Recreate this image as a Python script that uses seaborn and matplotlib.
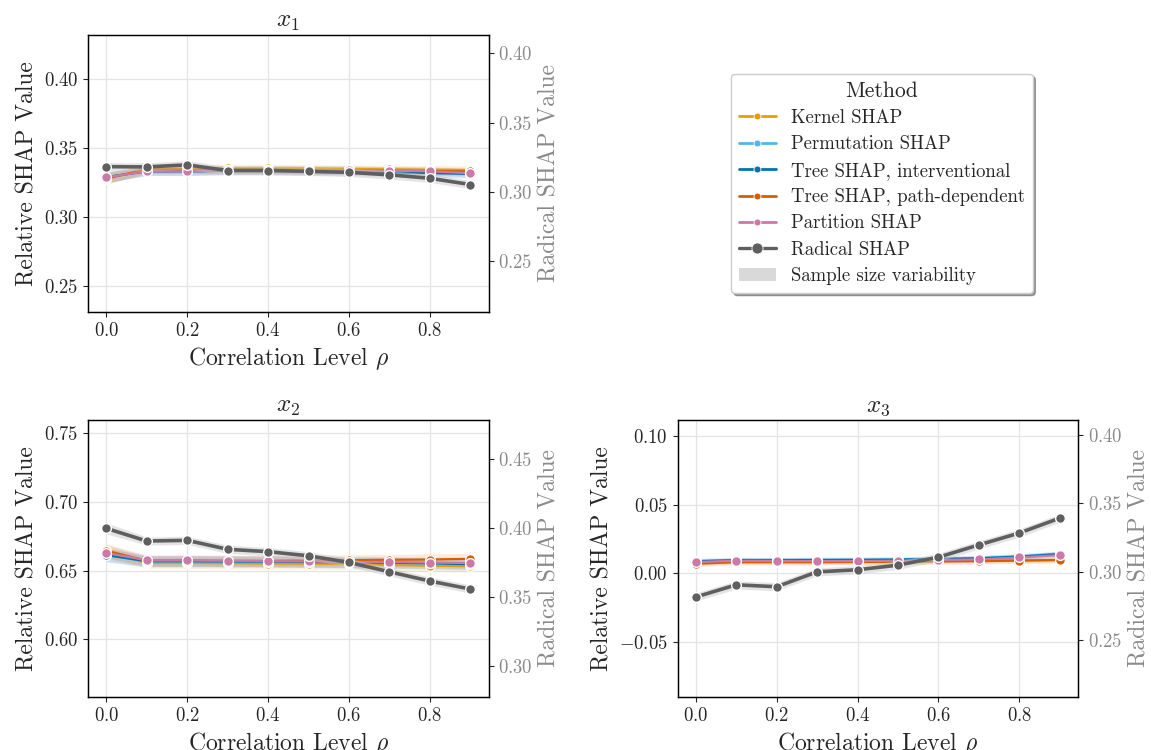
import numpy as np
import pandas as pd
import matplotlib
matplotlib.use("Agg")
import matplotlib.pyplot as plt
from matplotlib.lines import Line2D
from matplotlib.patches import Patch
from matplotlib.ticker import MultipleLocator
import seaborn as sns

sns.set_style("ticks")
plt.rcParams.update({
    "font.family": "serif",
    "font.serif": ["cmr10"],
    "mathtext.fontset": "cm",
    "axes.formatter.use_mathtext": True,
    "axes.unicode_minus": True,
})

RHO = [0.0, 0.1, 0.2, 0.3, 0.4, 0.5, 0.6, 0.7, 0.8, 0.9]

METHODS = ["Kernel SHAP", "Permutation SHAP", "Tree SHAP, interventional",
           "Tree SHAP, path-dependent", "Partition SHAP"]
COLORS = ["#E69F00", "#56B4E9", "#0072B2", "#D55E00", "#CC79A7"]
RADICAL_COLOR = "#5f5f5f"

# feature x1 (left axis: five methods, right axis: radical)
X1_KERNEL = [0.3275, 0.3348, 0.3350, 0.3352, 0.3352, 0.3350, 0.3348, 0.3345, 0.3343, 0.3340]
X1_PERMUTATION = [0.3285, 0.3335, 0.3335, 0.3340, 0.3342, 0.3340, 0.3340, 0.3335, 0.3330, 0.3325]
X1_TREE_INT = [0.3290, 0.3330, 0.3330, 0.3335, 0.3335, 0.3333, 0.3330, 0.3325, 0.3318, 0.3312]
X1_TREE_PATH = [0.3280, 0.3345, 0.3345, 0.3343, 0.3343, 0.3340, 0.3338, 0.3335, 0.3333, 0.3330]
X1_PARTITION = [0.3288, 0.3331, 0.3330, 0.3338, 0.3338, 0.3338, 0.3338, 0.3336, 0.3331, 0.3317]
X1_RADICAL = [0.3181, 0.3179, 0.3194, 0.3153, 0.3153, 0.3147, 0.3140, 0.3122, 0.3097, 0.3052]
X1_SPREAD = [0.004, 0.003, 0.003, 0.003, 0.003, 0.003, 0.003, 0.003, 0.003, 0.003]
X1_RADICAL_SPREAD = [0.003, 0.003, 0.003, 0.003, 0.003, 0.003, 0.003, 0.003, 0.003, 0.003]

# feature x2
X2_KERNEL = [0.6640, 0.6555, 0.6555, 0.6553, 0.6550, 0.6550, 0.6548, 0.6540, 0.6535, 0.6530]
X2_PERMUTATION = [0.6615, 0.6565, 0.6565, 0.6565, 0.6563, 0.6560, 0.6558, 0.6555, 0.6552, 0.6548]
X2_TREE_INT = [0.6612, 0.6568, 0.6568, 0.6566, 0.6565, 0.6562, 0.6560, 0.6557, 0.6553, 0.6545]
X2_TREE_PATH = [0.6645, 0.6570, 0.6570, 0.6570, 0.6570, 0.6572, 0.6575, 0.6578, 0.6580, 0.6585]
X2_PARTITION = [0.6627, 0.6576, 0.6576, 0.6572, 0.6568, 0.6566, 0.6561, 0.6563, 0.6558, 0.6554]
X2_RADICAL = [0.4000, 0.3908, 0.3913, 0.3848, 0.3831, 0.3801, 0.3753, 0.3685, 0.3618, 0.3560]
X2_SPREAD = [0.005, 0.004, 0.004, 0.004, 0.004, 0.004, 0.004, 0.004, 0.004, 0.004]
X2_RADICAL_SPREAD = [0.004, 0.003, 0.003, 0.003, 0.003, 0.003, 0.003, 0.003, 0.003, 0.003]

# feature x3
X3_KERNEL = [0.0075, 0.0088, 0.0088, 0.0088, 0.0088, 0.0090, 0.0090, 0.0092, 0.0095, 0.0098]
X3_PERMUTATION = [0.0090, 0.0098, 0.0098, 0.0100, 0.0100, 0.0103, 0.0107, 0.0112, 0.0125, 0.0145]
X3_TREE_INT = [0.0088, 0.0096, 0.0096, 0.0097, 0.0098, 0.0100, 0.0104, 0.0110, 0.0122, 0.0140]
X3_TREE_PATH = [0.0070, 0.0082, 0.0082, 0.0082, 0.0083, 0.0085, 0.0087, 0.0089, 0.0093, 0.0097]
X3_PARTITION = [0.0083, 0.0092, 0.0090, 0.0090, 0.0090, 0.0092, 0.0098, 0.0102, 0.0116, 0.0133]
X3_RADICAL = [0.2816, 0.2905, 0.2891, 0.3000, 0.3015, 0.3049, 0.3107, 0.3197, 0.3284, 0.3393]
X3_SPREAD = [0.002, 0.002, 0.002, 0.002, 0.002, 0.002, 0.002, 0.002, 0.002, 0.002]
X3_RADICAL_SPREAD = [0.003, 0.003, 0.003, 0.003, 0.003, 0.003, 0.003, 0.003, 0.003, 0.003]

TITLES = ["$x_1$", "$x_2$", "$x_3$"]
LEFT_YLIM = [(0.2312, 0.4318), (0.558, 0.7595), (-0.0899, 0.1116)]
RIGHT_YLIM = [(0.2131, 0.4132), (0.2778, 0.4785), (0.2085, 0.411)]

features = [
    ([X1_KERNEL, X1_PERMUTATION, X1_TREE_INT, X1_TREE_PATH, X1_PARTITION], X1_RADICAL, X1_SPREAD, X1_RADICAL_SPREAD),
    ([X2_KERNEL, X2_PERMUTATION, X2_TREE_INT, X2_TREE_PATH, X2_PARTITION], X2_RADICAL, X2_SPREAD, X2_RADICAL_SPREAD),
    ([X3_KERNEL, X3_PERMUTATION, X3_TREE_INT, X3_TREE_PATH, X3_PARTITION], X3_RADICAL, X3_SPREAD, X3_RADICAL_SPREAD),
]

fig, axes = plt.subplots(2, 2, figsize=(11.51, 7.5), dpi=100)
fig.subplots_adjust(left=0.0765, right=0.9366, top=0.9533, bottom=0.0707,
                    wspace=0.472, hspace=0.39)
plot_axes = [axes[0, 0], axes[1, 0], axes[1, 1]]

for i, ax in enumerate(plot_axes):
    method_vals, radical, spread, rad_spread = features[i]
    rows = []
    for m, vals in zip(METHODS, method_vals):
        for r, v in zip(RHO, vals):
            rows.append({"rho": r, "value": v, "method": m})
    df = pd.DataFrame(rows)

    for m, vals, c in zip(METHODS, method_vals, COLORS):
        lo = np.array(vals) - np.array(spread)
        hi = np.array(vals) + np.array(spread)
        ax.fill_between(RHO, lo, hi, color=c, alpha=0.13, linewidth=0)

    sns.lineplot(data=df, x="rho", y="value", hue="method", hue_order=METHODS,
                 palette=COLORS, marker="o", markersize=7, markeredgecolor="white",
                 markeredgewidth=1, linewidth=1.6, legend=False, ax=ax)

    ax2 = ax.twinx()
    rdf = pd.DataFrame({"rho": RHO, "value": radical})
    ax2.fill_between(RHO, np.array(radical) - np.array(rad_spread),
                     np.array(radical) + np.array(rad_spread),
                     color="#c4c4c4", alpha=0.45, linewidth=0)
    sns.lineplot(data=rdf, x="rho", y="value", color=RADICAL_COLOR, marker="o",
                 markersize=7, markeredgecolor="white", markeredgewidth=1,
                 linewidth=2.6, ax=ax2)

    ax.set_ylim(*LEFT_YLIM[i])
    ax2.set_ylim(*RIGHT_YLIM[i])
    ax.yaxis.set_major_locator(MultipleLocator(0.05))
    ax2.yaxis.set_major_locator(MultipleLocator(0.05))
    ax.grid(True, color="#e4e4e4", linewidth=0.9)
    ax2.grid(False)

    ax.set_title(TITLES[i], fontsize=18)
    ax.set_xlabel(r"Correlation Level $\rho$", fontsize=17)
    ax.set_ylabel("Relative SHAP Value", fontsize=17)
    ax2.set_ylabel("Radical SHAP Value", fontsize=17, color="#8a8a8a")
    ax.tick_params(labelsize=13.5)
    ax2.tick_params(labelsize=13.5, labelcolor="#8a8a8a")
    for spine in ax2.spines.values():
        spine.set_color("black")
        spine.set_linewidth(1.0)

axes[0, 1].axis("off")
handles = [Line2D([0], [0], color=c, marker="o", markersize=5, linewidth=2,
                  markeredgecolor="white", markeredgewidth=0.6) for c in COLORS]
handles.append(Line2D([0], [0], color=RADICAL_COLOR, marker="o", markersize=8,
                      linewidth=2.4, markeredgecolor="white", markeredgewidth=0.6))
handles.append(Patch(facecolor="#d9d9d9", edgecolor="none"))
labels = METHODS + ["Radical SHAP", "Sample size variability"]
axes[0, 1].legend(handles, labels, title="Method", loc="center",
                  bbox_to_anchor=(0.51, 0.465), fontsize=13.5, title_fontsize=15.5,
                  labelspacing=0.45, frameon=True, fancybox=True, shadow=True)

fig.savefig("out.png", dpi=100)
